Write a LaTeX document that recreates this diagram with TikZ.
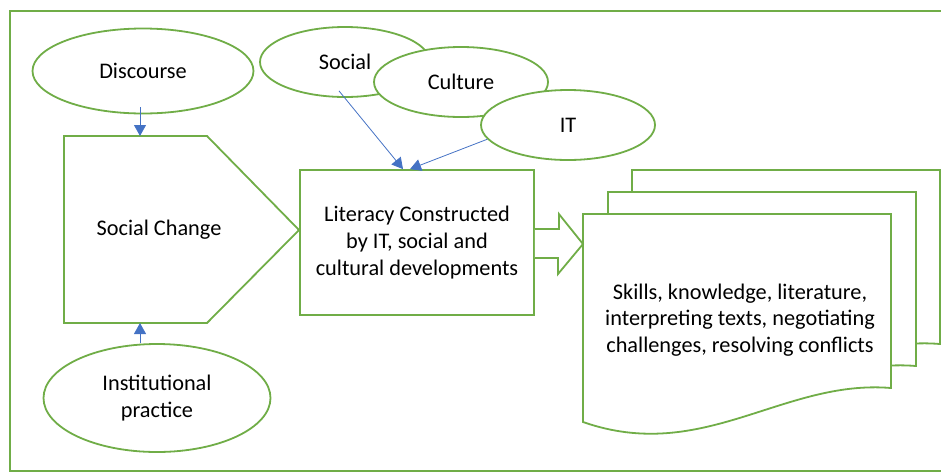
\documentclass[tikz,border=0pt]{standalone}
\usepackage{fontspec}
\setmainfont{Carlito}
\usetikzlibrary{arrows.meta,calc,shapes.geometric}
\definecolor{leaf}{RGB}{112,173,71}
\definecolor{wire}{RGB}{68,114,196}
\begin{document}
\begin{tikzpicture}[
  x=1pt,y=-1pt,
  font=\fontsize{22.3}{26.7}\selectfont,
  every node/.style={align=center,inner sep=0pt},
  blob/.style={draw=leaf,line width=1.8pt,fill=white,ellipse,minimum width=#1},
  blob/.default=174,
  box/.style={draw=leaf,line width=1.8pt,fill=white},
  feed/.style={draw=wire,line width=0.8pt,-{Triangle[length=11pt,width=12pt]}},
  ]
  \useasboundingbox (0,0) rectangle (941,472);
  \draw[leaf,line width=1.8pt] (10,11) rectangle (980,471);
  % left column
  \node[blob=221,minimum height=85](disc) at (143,71){Discourse};
  \node[blob=227,minimum height=108](inst) at (157,398){Institutional\\practice};
  \draw[box] (64,136) -- (207,136) -- (299,230) -- (207,323) -- (64,323) -- cycle;
  \node(change) at (159,230){Social Change};
  \coordinate(chgtop) at (140,136);
  \coordinate(chgbot) at (140,323);
  % top ellipses
  \node[blob=170,minimum height=70](social) at (345,62){Social};
  \node[blob,minimum height=70](culture) at (461,82){Culture};
  \node[blob,minimum height=70](it) at (568,125){IT};
  % middle box
  \node[box,minimum width=234,minimum height=145](lit) at (417,242.5)
    {Literacy Constructed\\by IT, social and\\cultural developments};
  % documents
  \foreach \dx/\dy in {49/-44,25/-22,0/0}{
    \draw[box,shift={(583+\dx,214+\dy)}] (0,0) -- (308,0) -- (308,174)
      .. controls (200,165) and (120,250) .. (0,208) -- cycle;
  }
  \node(skills) at (740,320)
    {Skills, knowledge, literature,\\interpreting texts, negotiating\\challenges, resolving conflicts};
  \draw[box] ($(lit.east)+(0,-13.5)$) -- ++(24,0) -- ++(0,-15) -- (583,244)
    -- ++(-25,30) -- ++(0,-16) -- ($(lit.east)+(0,15.5)$);
  % connectors
  \path
  ([yshift=7pt]chgtop |- disc.south) edge[feed] (chgtop)
  (inst.north -| chgbot) edge[feed] (chgbot)
  ([xshift=-6pt,yshift=7pt]social.south) edge[feed] ([xshift=-14pt]lit.north)
  (it.190) edge[feed] ([xshift=-7pt]lit.north);
\end{tikzpicture}
\end{document}
